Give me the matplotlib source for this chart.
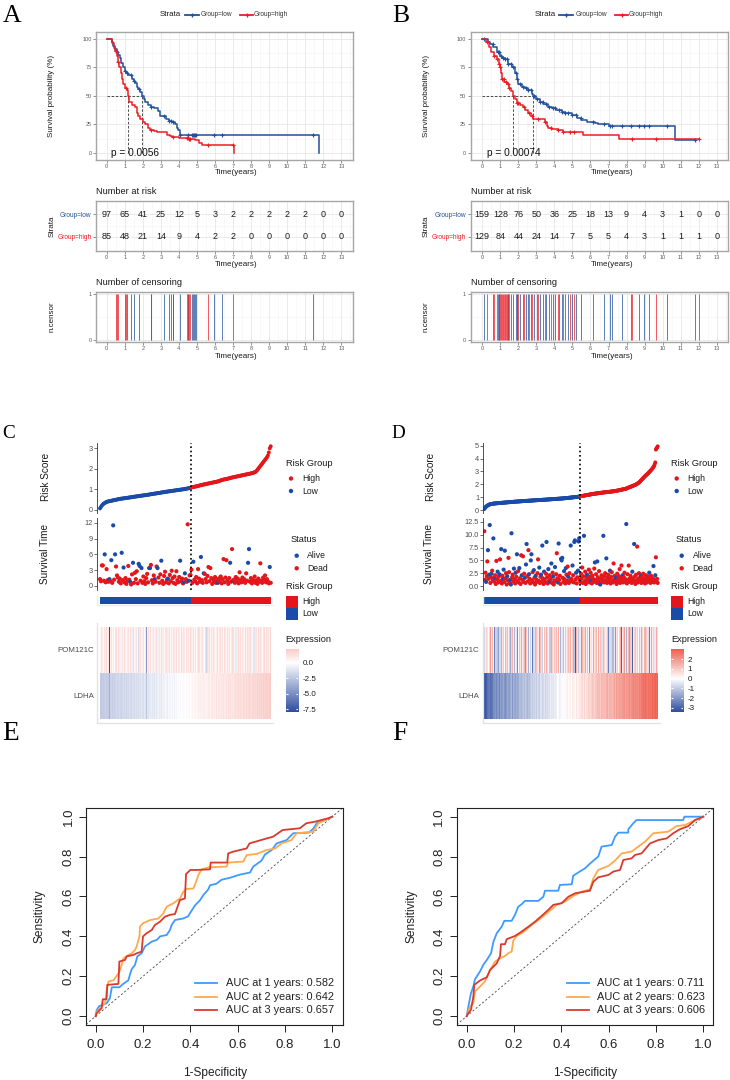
import numpy as np
import matplotlib.pyplot as plt
from matplotlib.colors import LinearSegmentedColormap, ListedColormap, Normalize

plt.rcParams['font.family'] = ['Liberation Sans', 'DejaVu Sans']

# ---------------- A / B : Kaplan-Meier ----------------
years = list(range(14))

a_low_t = [0, 0.28, 0.37, 0.45, 0.55, 0.62, 0.74, 0.80, 0.92, 1.00, 1.07, 1.20, 1.40, 1.50, 1.57, 1.66, 1.75,
           1.85, 1.94, 2.05, 2.15, 2.30, 2.45, 2.60, 2.86, 2.96, 3.30, 3.45, 3.60, 3.80, 3.88, 3.97, 4.06, 11.78]
a_low_s = [100, 97, 94, 91, 88, 86, 83, 79, 75, 72, 70, 68, 65, 63, 61, 58, 56,
           53, 50, 47, 45, 42, 40, 39, 37, 32, 30, 28, 27, 25, 22, 20, 16, 0]
a_high_t = [0, 0.30, 0.40, 0.48, 0.55, 0.62, 0.70, 0.77, 0.83, 0.92, 1.00, 1.10, 1.20, 1.25, 1.40, 1.55, 1.66,
            1.75, 1.85, 2.00, 2.15, 2.30, 2.40, 2.60, 2.80, 3.35, 3.50, 3.60, 4.00, 4.50, 4.90, 5.10, 5.27, 7.05]
a_high_s = [100, 96, 92, 89, 85, 80, 75, 70, 65, 60, 57, 55, 50, 45, 42, 40, 35,
            32, 30, 27, 25, 22, 20, 19, 18.5, 16, 15, 14, 13, 12, 11, 9, 7, 0]
a_cens_low = [0.59, 1.02, 1.15, 1.33, 1.51, 1.81, 2.47, 3.2, 3.45, 3.55, 3.66, 4.06, 4.5, 4.72, 4.78,
              4.84, 4.9, 4.96, 5.96, 6.37, 11.45]
a_cens_high = [0.52, 0.62, 1.07, 2.44, 3.68, 4.44, 4.49, 4.55, 4.6, 5.63, 7.02]
a_risk_low = [97, 65, 41, 25, 12, 5, 3, 2, 2, 2, 2, 2, 0, 0]
a_risk_high = [85, 48, 21, 14, 9, 4, 2, 2, 0, 0, 0, 0, 0, 0]

b_low_t = [0, 0.33, 0.40, 0.60, 0.80, 0.98, 1.10, 1.25, 1.44, 1.63, 1.80, 1.90, 2.00, 2.18, 2.37, 2.55, 2.74,
           2.83, 3.00, 3.20, 3.38, 3.66, 3.85, 4.10, 4.40, 4.59, 4.95, 5.23, 5.50, 5.80, 6.25, 6.43, 7.00,
           10.70, 11.80]
b_low_s = [100, 97, 95, 93, 88, 85, 83, 82, 78, 75, 70, 65, 60, 58, 57, 55, 52,
           50, 47, 45, 43, 40, 39, 38, 36, 35, 33, 31, 29, 27, 26, 25, 23.5, 11.6, 11.6]
b_high_t = [0, 0.20, 0.35, 0.50, 0.66, 0.80, 0.90, 0.98, 1.04, 1.07, 1.22, 1.35, 1.48, 1.60, 1.68, 1.80,
            1.90, 2.09, 2.27, 2.37, 2.55, 2.68, 2.83, 3.48, 3.57, 3.66, 3.85, 4.20, 4.50, 5.60, 7.58, 12.04]
b_high_s = [100, 97, 93, 88, 85, 82, 78, 75, 70, 65, 62, 60, 57, 54, 50, 47,
            44, 42, 40, 38, 35, 32, 30, 27, 24, 22, 21, 20, 18, 15.5, 12.2, 12.2]
b_cens_low = [0.11, 0.57, 0.85, 0.95, 1.05, 1.15, 1.25, 1.35, 1.45, 1.6, 1.72, 1.85, 1.95, 2.1, 2.25, 2.4,
              2.55, 2.7, 2.85, 3.05, 3.2, 3.35, 3.55, 3.7, 3.9, 4.05, 4.25, 4.4, 4.6, 4.75, 5.0, 5.2, 5.47,
              6.16, 6.77, 7.08, 7.18, 7.73, 8.23, 8.69, 8.97, 9.25, 10.23, 11.8]
b_cens_high = [0.24, 0.66, 0.82, 0.9, 1.0, 1.1, 1.2, 1.3, 1.4, 1.5, 1.9, 2.0, 2.3, 2.6, 2.75, 3.1, 3.5,
               3.8, 4.2, 4.5, 4.85, 5.1, 8.28, 9.63, 12.04]
b_risk_low = [159, 128, 76, 50, 36, 25, 18, 13, 9, 4, 3, 1, 0, 0]
b_risk_high = [129, 84, 44, 24, 14, 7, 5, 5, 4, 3, 1, 1, 1, 0]

# ---------------- C / D : risk score, survival, heatmap ----------------
c_n_low = 97
c_score = [0.08, 0.15, 0.22, 0.27, 0.31, 0.34, 0.37, 0.39, 0.41, 0.42,
           0.43, 0.44, 0.45, 0.46, 0.47, 0.48, 0.49, 0.50, 0.51, 0.52,
           0.53, 0.54, 0.55, 0.55, 0.56, 0.57, 0.57, 0.58, 0.59, 0.59,
           0.60, 0.61, 0.61, 0.62, 0.63, 0.64, 0.64, 0.65, 0.66, 0.66,
           0.67, 0.68, 0.68, 0.69, 0.70, 0.70, 0.71, 0.72, 0.72, 0.73,
           0.74, 0.74, 0.75, 0.76, 0.77, 0.77, 0.78, 0.79, 0.80, 0.80,
           0.81, 0.82, 0.83, 0.83, 0.84, 0.85, 0.86, 0.86, 0.87, 0.88,
           0.89, 0.89, 0.90, 0.91, 0.91, 0.92, 0.93, 0.93, 0.94, 0.95,
           0.95, 0.96, 0.97, 0.97, 0.98, 0.99, 0.99, 1.00, 1.01, 1.01,
           1.02, 1.03, 1.04, 1.05, 1.06, 1.07, 1.08,
           1.10, 1.11, 1.12, 1.13, 1.14, 1.15, 1.16, 1.17, 1.18, 1.20,
           1.21, 1.22, 1.23, 1.24, 1.25, 1.26, 1.27, 1.28, 1.29, 1.30,
           1.31, 1.32, 1.33, 1.34, 1.35, 1.36, 1.37, 1.38, 1.39, 1.40,
           1.42, 1.44, 1.46, 1.47, 1.48, 1.49, 1.50, 1.51, 1.52, 1.53,
           1.54, 1.56, 1.57, 1.58, 1.59, 1.60, 1.61, 1.62, 1.63, 1.64,
           1.65, 1.66, 1.67, 1.68, 1.69, 1.70, 1.71, 1.72, 1.73, 1.74,
           1.75, 1.76, 1.77, 1.78, 1.79, 1.80, 1.82, 1.84, 1.86, 1.90,
           1.96, 2.02, 2.08, 2.14, 2.20, 2.26, 2.32, 2.38, 2.44, 2.50,
           2.56, 2.65, 2.80, 3.00, 3.10]
c_time = [1.3, 0.9, 3.9, 3.9, 1.0, 6.0, 0.7, 3.2, 1.1, 0.8,
          1.3, 0.9, 4.9, 0.6, 11.5, 1.2, 6.0, 3.7, 2.0, 1.6,
          0.8, 1.4, 0.5, 6.3, 1.1, 3.5, 0.7, 1.5, 0.4, 1.0,
          3.8, 1.2, 0.8, 0.3, 2.2, 4.4, 0.6, 2.5, 1.3, 2.8,
          0.5, 4.2, 3.8, 1.0, 3.4, 0.6, 1.8, 0.9, 0.4, 1.5,
          2.3, 0.7, 3.4, 3.4, 4.0, 1.1, 0.5, 2.0, 1.3, 0.8,
          3.7, 3.4, 1.6, 0.6, 2.2, 4.8, 1.0, 0.4, 1.9, 2.7,
          0.7, 1.2, 1.4, 0.5, 2.1, 0.9, 2.9, 1.5, 0.6, 1.8,
          0.4, 2.8, 1.1, 0.7, 1.7, 4.8, 0.9, 1.4, 0.5, 0.7,
          2.4, 1.3, 0.8, 11.7, 1.0, 2.0, 2.1, 3.1, 0.6, 4.6,
          1.2, 0.9, 1.7, 0.5, 3.2, 1.4, 0.8, 5.5, 1.1, 0.6,
          2.4, 2.3, 1.3, 0.7, 1.9, 3.6, 0.9, 3.4, 1.5, 0.4,
          1.2, 0.8, 1.7, 0.6, 1.1, 0.6, 1.4, 0.9, 1.8, 0.5,
          1.3, 5.1, 0.7, 1.6, 4.9, 1.0, 0.4, 1.5, 4.4, 0.8,
          7.0, 1.0, 1.2, 0.6, 1.7, 0.9, 1.4, 0.5, 2.6, 1.1,
          0.7, 1.6, 0.9, 1.3, 0.6, 2.4, 1.0, 4.4, 7.0, 0.8,
          1.5, 0.5, 1.2, 0.9, 1.8, 0.6, 1.1, 0.4, 1.4, 0.8,
          4.3, 1.0, 0.6, 1.6, 1.2, 2.0, 0.7, 1.3, 0.9, 0.5,
          3.6, 0.6]
c_status = ("DDDDDADDDD" "ADADADADDD" "DDDADADDDD" "DDADDADDDD" "DAADADDDDD" "DDDADDDDAD"
            "DADDDADDDD" "DDADDDDDDD" "DDDDDADDDA" "ADDDADDDDA" "DDDDDDDADD" "ADDDDDDDDD"
            "DDDDDADDDD" "DDDDDDDDAD" "DADDDDDDDD" "DDDDDDDAAD" "DDDDDDDDDD" "DDDDDDDDDD" "AD")
c_pom = [1.0, 0.4, 1.4, 0.7, 0.2, 1.2, 0.7, 1.6, 0.4, 1.0,
         -7.9, 0.7, 1.4, 0.4, 1.0, 0.2, 1.2, 1.6, 0.7, 0.4,
         1.4, 1.0, -0.6, 0.7, 1.2, 0.4, 1.6, 0.7, 0.2, 1.0,
         1.2, 0.4, 1.4, 0.7, -0.8, 1.0, 1.6, 0.4, 0.7, 1.2,
         0.2, -1.5, 1.0, 1.4, 0.4, 0.7, 1.2, 0.2, 1.0, -4.5,
         0.7, 1.4, 0.4, 1.0, 1.6, 0.2, 0.7, 1.2, 0.4, 1.0,
         1.4, 0.7, -0.6, 1.2, 0.4, 1.6, 0.7, 1.0, 0.2, 1.2,
         0.4, 1.4, 1.0, 0.7, 1.6, 0.2, 1.2, 0.4, -1.0, 1.0,
         0.7, 1.4, 0.4, 1.2, 1.0, 0.2, 1.6, 0.7, 0.4, 1.2,
         1.0, 0.2, 1.4, 0.7, 1.2, 0.4, 1.6, 1.0, 0.7, 1.4,
         0.4, 1.2, 0.2, 1.0, 1.6, 0.7, 1.4, 0.4, 1.0, 1.2,
         0.7, 0.2, 1.4, -1.8, -1.2, 1.0, 1.6, 0.4, 1.2, 0.7,
         1.4, 1.0, 0.2, 1.2, 0.7, 1.6, 0.4, 1.0, 1.4, 0.7,
         1.2, 0.2, 1.6, 1.0, 0.4, 1.4, 0.7, 1.2, 0.2, 1.0,
         1.6, 0.7, 1.4, 0.4, 1.2, -0.8, 1.0, 1.6, 0.7, 1.4,
         0.4, 1.2, 1.0, 0.2, 1.6, 0.7, 1.4, 1.0, 0.4, 1.2,
         1.6, 0.7, 0.2, 1.4, -1.2, 1.0, 1.2, 0.4, 1.6, 0.7,
         1.4, 1.0, 0.2, 1.2, 1.6, 0.7, 0.4, 1.4, 1.0, 1.2,
         0.7, 1.6]
c_ldha = [-2.6, -2.3, -2.5, -2.1, -2.4, -2.2, -2.0, -2.4, -2.1, -2.3,
          -3.4, -2.0, -1.9, -2.2, -1.8, -2.1, -1.9, -1.7, -2.0, -1.8,
          -1.9, -1.6, -1.8, -2.0, -1.7, -1.5, -1.8, -1.6, -1.9, -1.5,
          -1.7, -1.4, -1.6, -1.8, -1.3, -1.6, -1.4, -1.7, -1.2, -1.5,
          -1.3, -1.6, -1.2, -1.4, -1.1, -1.3, -1.5, -1.0, -1.2, -2.6,
          -1.1, -1.3, -0.9, -1.2, -1.0, -0.8, -1.1, -0.9, -1.2, -0.7,
          -1.0, -0.8, -0.6, -0.9, -0.7, -1.0, -0.5, -0.8, -0.6, -0.4,
          -0.7, -0.5, -0.8, -0.3, -0.6, -0.4, -0.2, -0.5, -0.3, -0.6,
          -0.2, -0.4, -0.1, -0.3, 0.0, -0.2, 0.1, -0.1, 0.0, 0.2,
          -0.1, 0.1, 0.3, 0.0, 0.2, 0.4, 0.1, 0.3, 0.5, 0.2,
          0.4, 0.6, 0.3, 0.5, 0.7, 0.4, 0.6, 0.8, 0.5, 0.7,
          0.9, 0.6, 0.8, 0.5, 0.7, 1.0, 0.8, 0.6, 0.9, 1.1,
          0.8, 1.0, 0.7, 0.9, 1.2, 0.8, 1.0, 1.1, 0.9, 1.2,
          1.0, 1.3, 0.9, 1.1, 1.2, 1.0, 1.4, 1.1, 1.3, 1.0,
          1.2, 1.4, 1.1, 1.3, 1.5, 1.2, 1.4, 1.6, 1.3, 1.5,
          1.4, 1.2, 1.6, 1.5, 1.3, 1.7, 1.4, 1.6, 1.5, 1.8,
          1.6, 1.4, 1.7, 1.9, 1.5, 1.8, 1.6, 2.0, 1.7, 1.9,
          1.8, 2.0, 1.7, 2.1, 1.9, 2.0, 1.8, 2.1, 2.0, 1.9,
          2.1, 2.2]

d_n_low = 159
d_score = [0.08, 0.15, 0.22, 0.27, 0.30, 0.34, 0.37, 0.40, 0.42, 0.44,
           0.45, 0.46, 0.47, 0.48, 0.49, 0.50, 0.50, 0.51, 0.51, 0.52,
           0.52, 0.53, 0.53, 0.54, 0.54, 0.55, 0.55, 0.55, 0.56, 0.56,
           0.57, 0.57, 0.57, 0.58, 0.58, 0.59, 0.59, 0.59, 0.60, 0.60,
           0.61, 0.61, 0.61, 0.62, 0.62, 0.63, 0.63, 0.63, 0.64, 0.64,
           0.65, 0.65, 0.65, 0.66, 0.66, 0.66, 0.67, 0.67, 0.67, 0.68,
           0.68, 0.68, 0.69, 0.69, 0.69, 0.70, 0.70, 0.70, 0.71, 0.71,
           0.71, 0.72, 0.72, 0.72, 0.73, 0.73, 0.73, 0.73, 0.74, 0.74,
           0.74, 0.75, 0.75, 0.75, 0.76, 0.76, 0.76, 0.77, 0.77, 0.77,
           0.78, 0.78, 0.78, 0.78, 0.79, 0.79, 0.79, 0.80, 0.80, 0.80,
           0.80, 0.81, 0.81, 0.81, 0.82, 0.82, 0.82, 0.83, 0.83, 0.83,
           0.84, 0.84, 0.84, 0.85, 0.85, 0.85, 0.86, 0.86, 0.86, 0.87,
           0.87, 0.87, 0.88, 0.88, 0.88, 0.89, 0.89, 0.89, 0.90, 0.90,
           0.90, 0.91, 0.91, 0.92, 0.92, 0.93, 0.93, 0.94, 0.94, 0.95,
           0.95, 0.96, 0.96, 0.97, 0.97, 0.98, 0.98, 0.99, 0.99, 1.00,
           1.00, 1.01, 1.01, 1.02, 1.02, 1.03, 1.04, 1.05, 1.06,
           1.07, 1.08, 1.09, 1.10, 1.10, 1.11, 1.12, 1.13, 1.14, 1.15,
           1.16, 1.17, 1.18, 1.18, 1.19, 1.20, 1.21, 1.22, 1.23, 1.24,
           1.24, 1.25, 1.26, 1.27, 1.27, 1.28, 1.29, 1.29, 1.30, 1.30,
           1.31, 1.32, 1.32, 1.33, 1.34, 1.34, 1.35, 1.36, 1.36, 1.37,
           1.38, 1.38, 1.39, 1.39, 1.40, 1.40, 1.41, 1.41, 1.42, 1.42,
           1.43, 1.44, 1.44, 1.45, 1.45, 1.46, 1.47, 1.47, 1.48, 1.49,
           1.50, 1.51, 1.52, 1.53, 1.54, 1.55, 1.56, 1.57, 1.58, 1.59,
           1.60, 1.61, 1.62, 1.63, 1.64, 1.65, 1.67, 1.69, 1.71, 1.73,
           1.75, 1.77, 1.79, 1.81, 1.82, 1.84, 1.86, 1.88, 1.90, 1.92,
           1.94, 1.96, 1.98, 2.01, 2.04, 2.07, 2.10, 2.14, 2.18, 2.23,
           2.28, 2.33, 2.38, 2.43, 2.48, 2.53, 2.58, 2.63, 2.68, 2.72,
           2.76, 2.80, 2.85, 2.90, 2.95, 3.00, 3.05, 3.10, 3.16, 3.22,
           3.28, 3.35, 3.42, 3.55, 3.70, 4.70, 4.80, 4.85, 4.95]
d_time = [10.7, 1.2, 2.6, 0.8, 1.9, 4.8, 7.0, 1.4, 2.2, 11.9,
          0.6, 1.7, 2.4, 3.0, 1.1, 9.3, 0.9, 1.6, 2.1, 0.4,
          4.9, 1.3, 2.8, 0.7, 1.8, 2.3, 5.2, 1.0, 7.2, 0.5,
          2.0, 1.4, 3.2, 0.8, 6.9, 1.5, 2.5, 0.3, 1.9, 1.1,
          5.5, 2.7, 0.6, 1.2, 0.3, 10.3, 1.7, 2.2, 0.9, 3.4,
          1.3, 0.5, 2.6, 1.8, 6.2, 1.0, 2.9, 0.7, 3.5, 1.5,
          0.4, 6.0, 2.1, 1.2, 5.8, 0.8, 2.4, 1.6, 0.6, 4.2,
          8.2, 1.9, 0.9, 7.0, 2.3, 1.4, 0.5, 5.0, 6.2, 1.1,
          2.7, 0.7, 3.1, 1.6, 0.3, 2.0, 1.3, 0.8, 2.5, 5.2,
          1.0, 3.6, 0.6, 1.8, 2.2, 0.9, 7.9, 1.5, 0.4, 2.8,
          1.2, 0.7, 2.4, 8.6, 1.7, 0.5, 3.3, 1.0, 2.1, 0.8,
          1.4, 4.4, 0.6, 2.6, 1.9, 0.3, 1.1, 3.7, 0.9, 2.3,
          6.4, 1.5, 0.7, 8.3, 1.2, 2.0, 0.4, 5.3, 5.0, 5.5,
          1.6, 0.8, 2.9, 1.3, 0.5, 3.5, 2.2, 1.0, 3.8, 1.8,
          0.6, 2.5, 1.1, 7.9, 1.4, 0.9, 4.0, 2.1, 0.7, 8.6,
          8.9, 1.3, 2.6, 0.5, 1.7, 3.0, 8.7, 9.3, 1.2, 0.8,
          2.4, 1.5, 3.6, 0.6, 1.9, 9.8, 1.0, 2.8, 0.4, 1.6,
          2.2, 0.9, 1.3, 3.2, 0.7, 1.8, 2.6, 1.1, 0.5, 2.0,
          1.4, 0.8, 3.4, 4.6, 1.2, 2.3, 0.6, 4.8, 1.7, 1.0,
          2.9, 0.4, 0.3, 1.5, 2.1, 0.9, 1.3, 9.8, 0.7, 1.9,
          2.5, 1.1, 5.4, 0.6, 1.6, 2.2, 0.8, 1.4, 3.0, 0.5,
          1.8, 2.7, 1.0, 0.7, 4.4, 1.3, 2.0, 0.9, 1.6, 0.4,
          2.4, 1.2, 0.8, 1.9, 3.3, 0.6, 1.5, 4.0, 1.1, 2.1,
          0.7, 1.7, 2.6, 0.9, 1.3, 12.1, 0.5, 2.3, 1.0, 4.0,
          1.4, 0.8, 2.0, 1.6, 0.6, 2.8, 1.2, 0.9, 8.2, 1.8,
          0.4, 2.2, 1.1, 7.7, 0.7, 1.5, 2.5, 0.9, 1.3, 2.0,
          0.6, 1.7, 1.0, 2.4, 0.8, 1.4, 0.5, 2.1, 1.2, 0.7,
          1.9, 0.9, 1.6, 2.6, 1.1, 0.6, 2.0, 1.3, 0.8, 1.5,
          3.9, 0.7, 1.2, 2.1, 5.6, 0.9, 1.4, 0.6]
d_status = ("DDDADDADAA" "DDADDADADD" "DDADDADDAD" "DAADADDDAD" "DDDAAADDDA" "DDADADDDAD"
            "DDADDDDADA" "ADDDADDAAD" "DDADDADDDD" "DADDADADDA" "DDDADDADDA" "DADDADDADD"
            "DDAADDDAAA" "DDADDADDDA" "DDDADDADDA" "ADADDAAADD" "DDDDDADDDD" "ADDDDDDADD"
            "DDDADDDADD" "DDADDDDADD" "DDADDDDDAD" "DDDDDDDDAD" "DDDDDDDDDA" "DDDDDADDDD"
            "DDDDDADDAD" "DDDDDDDDDA" "DDDDDDDDDD" "DDDADDDDDD" "ADDADDDD")
d_pom = [-0.8, 1.2, 0.3, -2.9, 0.9, -0.4, 1.6, 0.1, -1.5, 0.7,
         1.9, -0.6, 0.4, -1.1, 1.3, -0.2, 0.8, -2.4, 0.5, 1.1,
         -0.9, 0.2, 1.5, -0.5, -1.8, 0.9, 0.3, -0.7, 1.7, -0.3,
         0.6, -1.3, 1.0, 0.1, -3.1, 1.4, -0.4, 0.7, -1.0, 1.8,
         0.2, -0.6, 1.2, -1.6, 0.4, 0.9, -0.8, 1.5, -0.1, 0.6,
         -1.4, 1.1, 0.3, -0.5, 1.7, -2.2, 0.8, 0.0, -0.9, 1.3,
         0.5, -1.2, 1.6, -0.3, 0.9, -0.7, 0.2, 1.4, -1.9, 0.6,
         1.0, -0.4, 0.3, -1.5, 1.8, 0.1, -0.8, 1.2, -0.2, 0.7,
         -2.6, 0.9, 1.5, -0.6, 0.4, -1.1, 1.1, 0.2, -0.5, 1.6,
         0.3, -1.7, 0.8, 1.3, -0.3, 0.6, -0.9, 1.9, 0.0, -1.3,
         1.2, 0.4, -0.7, 1.5, -2.0, 0.8, 0.1, -0.4, 1.4, 0.5,
         -1.0, 1.7, -0.2, 0.9, -1.6, 0.3, 1.1, -0.6, 0.7, -2.8,
         1.3, 0.2, -0.8, 1.6, -0.1, 0.5, -1.4, 1.0, 0.4, -0.5,
         1.8, -1.2, 0.6, 0.0, -0.9, 1.4, 0.3, -2.3, 0.8, 1.2,
         -0.4, 0.7, -1.5, 1.5, 0.1, -0.7, 1.0, -0.2, 1.7, -1.1,
         0.4, -3.2, 0.9, 1.3, -0.5, 0.2, -1.0, 1.6, 0.6, -0.3,
         1.1, -1.8, 0.5, 1.4, -0.6, 0.0, 0.8, -1.3, 1.9, 0.3,
         -0.8, 1.2, -0.1, 0.7, -2.1, 1.5, 0.4, -0.4, 1.0, 0.2,
         -1.4, 1.7, 0.6, -0.7, 0.9, -2.7, 1.3, 0.1, -0.9, 1.6,
         0.5, -0.3, 1.1, -1.6, 0.8, 0.3, -0.5, 1.4, -1.2, 0.7,
         1.8, -0.2, 0.4, -1.0, 1.2, 0.0, -2.4, 0.9, 1.5, -0.6,
         0.2, 1.0, -1.3, 0.6, 1.7, -0.4, 0.3, -1.9, 1.1, 0.5,
         -0.7, 1.4, 0.1, -1.1, 0.8, 1.6, -0.3, -2.9, 1.2, 0.4,
         -0.8, 0.7, 1.9, -0.5, 0.2, -1.4, 1.0, 0.6, -0.2, 1.3,
         -1.7, 0.5, 1.1, -0.6, 0.9, -3.0, 1.5, 0.3, -0.4, 0.8,
         1.2, -1.0, 0.4, 1.6, -0.7, 0.1, -1.5, 1.3, 0.6, -0.3,
         1.8, -2.2, 0.7, 0.2, -0.9, 1.4, 0.5, -1.2, 1.0, -0.1,
         0.6, 1.5, -0.6, -2.5, 1.1, 0.3, -0.8, 1.7, 0.4, -1.3,
         0.9, 1.2, -0.4, 0.5, -1.8, 1.6, 0.2, -0.5]
d_ldha = [-3.4, -3.0, -3.2, -2.8, -3.1, -2.7, -2.9, -2.6, -3.0, -2.5,
          -2.8, -2.4, -2.7, -2.3, -2.6, -2.2, -2.5, -2.1, -2.4, -2.0,
          -2.3, -2.6, -2.0, -2.2, -1.9, -2.4, -2.1, -1.8, -2.0, -2.3,
          -1.9, -2.1, -1.7, -2.0, -1.8, -2.2, -1.6, -1.9, -1.7, -2.0,
          -1.8, -1.5, -1.9, -1.6, -1.8, -1.4, -1.7, -2.0, -1.5, -1.7,
          -1.6, -1.4, -1.8, -1.5, -1.3, -1.7, -1.4, -1.6, -1.2, -1.5,
          -1.3, -1.6, -1.4, -1.2, -1.5, -1.1, -1.4, -1.3, -1.0, -1.3,
          -1.2, -1.0, -1.4, -1.1, -0.9, -1.3, -1.0, -1.2, -0.8, -1.1,
          -1.0, -0.8, -1.2, -0.9, -1.1, -0.7, -1.0, -0.8, -0.6, -0.9,
          -0.8, -1.0, -0.7, -0.5, -0.9, -0.6, -0.8, -0.4, -0.7, -0.6,
          -0.5, -0.8, -0.4, -0.6, -0.3, -0.7, -0.5, -0.2, -0.6, -0.4,
          -0.3, -0.5, -0.2, -0.4, -0.1, -0.5, -0.3, -0.2, -0.4, -0.1,
          -0.3, 0.0, -0.2, -0.1, -0.3, 0.1, -0.2, 0.0, -0.1, 0.1,
          -0.2, 0.0, 0.2, -0.1, 0.1, 0.0, 0.2, -0.1, 0.3, 0.1,
          0.0, 0.2, 0.1, 0.3, 0.0, 0.2, 0.4, 0.1, 0.3, 0.2,
          0.4, 0.1, 0.3, 0.5, 0.2, 0.4, 0.3, 0.6, 0.4, 0.5,
          0.3, 0.6, 0.5, 0.7, 0.4, 0.6, 0.8, 0.5, 0.7, 0.6,
          0.8, 0.6, 0.9, 0.7, 0.8, 1.0, 0.7, 0.9, 0.8, 1.1,
          0.9, 1.0, 0.8, 1.2, 1.0, 0.9, 1.1, 1.3, 1.0, 1.2,
          1.1, 1.3, 1.0, 1.2, 1.4, 1.1, 1.3, 1.2, 1.5, 1.3,
          1.4, 1.2, 1.5, 1.3, 1.6, 1.4, 1.2, 1.5, 1.7, 1.4,
          1.6, 1.5, 1.3, 1.7, 1.5, 1.8, 1.6, 1.4, 1.7, 1.9,
          1.6, 1.8, 1.7, 1.5, 1.9, 1.7, 2.0, 1.8, 1.6, 1.9,
          2.0, 1.8, 2.1, 1.9, 1.7, 2.0, 2.2, 1.9, 2.1, 2.0,
          2.2, 2.0, 1.9, 2.3, 2.1, 2.2, 2.0, 2.4, 2.2, 2.1,
          2.3, 2.5, 2.2, 2.4, 2.3, 2.1, 2.5, 2.4, 2.6, 2.3,
          2.5, 2.4, 2.6, 2.7, 2.4, 2.6, 2.5, 2.8, 2.6, 2.7,
          2.5, 2.8, 2.7, 2.6, 2.9, 2.7, 2.8, 2.6, 2.9, 2.8,
          2.7, 2.9, 2.8, 3.0, 2.9, 2.8, 3.0, 2.9]
genes = ['POM121C', 'LDHA']

# ---------------- E / F : time-dependent ROC ----------------
roc_labels_e = ['AUC at 1 years: 0.582', 'AUC at 2 years: 0.642', 'AUC at 3 years: 0.657']
e1_fpr = [0, 0.004, 0.014, 0.046, 0.06, 0.068, 0.10, 0.114, 0.138, 0.145, 0.152, 0.166, 0.176, 0.194, 0.208,
          0.223, 0.237, 0.258, 0.272, 0.30, 0.314, 0.321, 0.335, 0.37, 0.39, 0.406, 0.42, 0.44, 0.455, 0.476,
          0.483, 0.51, 0.532, 0.568, 0.61, 0.652, 0.666, 0.701, 0.715, 0.744, 0.765, 0.807, 0.835, 0.90, 0.92,
          0.934, 0.97, 1.0]
e1_tpr = [0, 0.03, 0.05, 0.065, 0.09, 0.145, 0.145, 0.16, 0.18, 0.21, 0.235, 0.257, 0.30, 0.315, 0.35,
          0.362, 0.374, 0.382, 0.40, 0.407, 0.432, 0.457, 0.482, 0.49, 0.50, 0.53, 0.556, 0.58, 0.607, 0.636,
          0.656, 0.664, 0.684, 0.694, 0.71, 0.72, 0.75, 0.78, 0.81, 0.833, 0.866, 0.883, 0.917, 0.92, 0.94,
          0.967, 0.983, 1.0]
e2_fpr = [0, 0.0, 0.018, 0.04, 0.046, 0.054, 0.075, 0.096, 0.103, 0.117, 0.138, 0.152, 0.166, 0.173, 0.185,
          0.187, 0.20, 0.23, 0.265, 0.286, 0.30, 0.328, 0.356, 0.37, 0.385, 0.413, 0.427, 0.434, 0.448, 0.476,
          0.553, 0.56, 0.624, 0.638, 0.68, 0.722, 0.758, 0.786, 0.828, 0.849, 0.92, 0.941, 0.97, 1.0]
e2_tpr = [0, 0.015, 0.04, 0.065, 0.13, 0.174, 0.18, 0.215, 0.23, 0.29, 0.307, 0.315, 0.332, 0.349, 0.40,
          0.449, 0.466, 0.482, 0.49, 0.516, 0.549, 0.566, 0.59, 0.624, 0.638, 0.64, 0.683, 0.708, 0.736, 0.746,
          0.75, 0.77, 0.775, 0.808, 0.813, 0.833, 0.84, 0.866, 0.883, 0.917, 0.925, 0.967, 0.983, 1.0]
e3_fpr = [0, 0.004, 0.025, 0.03, 0.046, 0.049, 0.096, 0.10, 0.124, 0.131, 0.159, 0.173, 0.194, 0.20, 0.215,
          0.237, 0.25, 0.272, 0.293, 0.314, 0.335, 0.356, 0.377, 0.382, 0.40, 0.427, 0.483, 0.486, 0.556, 0.56,
          0.582, 0.638, 0.65, 0.708, 0.75, 0.79, 0.863, 0.89, 0.927, 0.983, 1.0]
e3_tpr = [0, 0.015, 0.04, 0.085, 0.085, 0.157, 0.162, 0.274, 0.282, 0.30, 0.307, 0.315, 0.324, 0.40, 0.416,
          0.432, 0.457, 0.474, 0.499, 0.508, 0.512, 0.582, 0.59, 0.713, 0.733, 0.733, 0.736, 0.77, 0.77, 0.816,
          0.825, 0.841, 0.866, 0.886, 0.90, 0.933, 0.942, 0.967, 0.975, 0.992, 1.0]

roc_labels_f = ['AUC at 1 years: 0.711', 'AUC at 2 years: 0.623', 'AUC at 3 years: 0.606']
f1_fpr = [0, 0.007, 0.018, 0.028, 0.035, 0.056, 0.07, 0.085, 0.103, 0.113, 0.127, 0.148, 0.159, 0.19, 0.204,
          0.218, 0.232, 0.246, 0.303, 0.324, 0.331, 0.387, 0.394, 0.444, 0.45, 0.479, 0.50, 0.521, 0.542, 0.556,
          0.57, 0.613, 0.627, 0.641, 0.683, 0.683, 0.704, 0.718, 0.915, 0.92, 1.0]
f1_tpr = [0, 0.048, 0.115, 0.149, 0.185, 0.224, 0.257, 0.282, 0.316, 0.374, 0.416, 0.449, 0.478, 0.478, 0.508,
          0.549, 0.561, 0.578, 0.578, 0.599, 0.629, 0.629, 0.658, 0.661, 0.704, 0.726, 0.741, 0.765, 0.786, 0.80,
          0.85, 0.858, 0.90, 0.92, 0.92, 0.937, 0.967, 0.983, 0.983, 1.0, 1.0]
f2_fpr = [0, 0.014, 0.028, 0.035, 0.056, 0.077, 0.099, 0.12, 0.141, 0.162, 0.176, 0.19, 0.197, 0.211, 0.232,
          0.254, 0.275, 0.303, 0.331, 0.359, 0.38, 0.415, 0.451, 0.486, 0.521, 0.535, 0.556, 0.599, 0.627, 0.655,
          0.697, 0.725, 0.754, 0.789, 0.852, 0.887, 0.923, 0.965, 1.0]
f2_tpr = [0, 0.048, 0.065, 0.124, 0.149, 0.174, 0.232, 0.274, 0.29, 0.302, 0.316, 0.324, 0.379, 0.402, 0.416,
          0.436, 0.457, 0.482, 0.508, 0.536, 0.558, 0.574, 0.603, 0.624, 0.636, 0.691, 0.733, 0.753, 0.78, 0.816,
          0.825, 0.85, 0.875, 0.917, 0.925, 0.953, 0.958, 0.983, 1.0]
f3_fpr = [0, 0.007, 0.018, 0.028, 0.032, 0.056, 0.085, 0.099, 0.127, 0.141, 0.145, 0.162, 0.169, 0.204, 0.232,
          0.261, 0.289, 0.317, 0.345, 0.366, 0.401, 0.43, 0.458, 0.521, 0.535, 0.556, 0.599, 0.62, 0.648, 0.662,
          0.697, 0.711, 0.739, 0.775, 0.81, 0.845, 0.873, 0.901, 0.937, 0.965, 1.0]
f3_tpr = [0, 0.015, 0.032, 0.098, 0.157, 0.179, 0.195, 0.232, 0.265, 0.302, 0.361, 0.361, 0.386, 0.402, 0.424,
          0.449, 0.474, 0.503, 0.533, 0.558, 0.566, 0.599, 0.616, 0.629, 0.674, 0.696, 0.708, 0.725, 0.733, 0.783,
          0.791, 0.808, 0.816, 0.866, 0.883, 0.891, 0.917, 0.937, 0.953, 0.983, 1.0]

LOW, HIGH = '#22509a', '#ed1c24'
BLUE, RED = '#1a4ba8', '#e3161b'
ROC_COLS = ['#3d9bff', '#ffa94d', '#d93a2e']
heat_cmap = LinearSegmentedColormap.from_list('expr', ['#2f4e9f', '#ffffff', '#ec4b3a'])

W, H = 730, 1080
fig = plt.figure(figsize=(W / 100, H / 100), dpi=100)


def add_box(x0, y0, x1, y1):
    # axes placed by pixel box (top-left origin)
    return fig.add_axes([x0 / W, 1 - y1 / H, (x1 - x0) / W, (y1 - y0) / H])


def gg_style(ax, xl):
    ax.set_xlim(*xl)
    ax.set_xticks(years)
    ax.set_xticks(np.arange(0.5, 13.6, 1), minor=True)
    ax.grid(which='major', color='#e6e6e6', lw=0.6)
    ax.grid(which='minor', color='#f3f3f3', lw=0.4)
    ax.set_axisbelow(True)
    for s in ax.spines.values():
        s.set_color('#a6a6a6')
        s.set_linewidth(1.0)
    ax.tick_params(which='major', length=2, width=0.5, color='#666666', labelsize=4,
                   labelcolor='#595959', pad=1.2)
    ax.tick_params(which='minor', length=0)


def km_panel(L, R, p0, p13, low, high, c_low, c_high, r_low, r_high, pval):
    s = (p13 - p0) / 13
    xl = ((L - p0) / s, (R - p0) / s)
    ax = add_box(L, 32, R, 160)
    gg_style(ax, xl)
    ax.set_ylim(-6.1, 105.9)
    ax.set_yticks([0, 25, 50, 75, 100])
    ax.set_yticks([12.5, 37.5, 62.5, 87.5], minor=True)
    meds = [t[int(np.argmax(np.array(sv) <= 50))] for t, sv in (low, high)]
    dash = dict(color='#333333', lw=0.6, ls=(0, (3, 2)))
    ax.plot([0, max(meds)], [50, 50], **dash)
    for m in meds:
        ax.plot([m, m], [0, 50], **dash)
    for (t, sv), col, cens in ((low, LOW, c_low), (high, HIGH, c_high)):
        ax.step(t, sv, where='post', color=col, lw=1.1)
        k = np.searchsorted(t, cens, side='right') - 1
        ax.plot(cens, np.array(sv)[k], ls='none', marker='+', ms=3.2, mew=0.8, color=col)
    ax.text(0.25, 0, pval, fontsize=7.3, va='center', ha='left', color='#111111')

    tb = add_box(L, 200.5, R, 250.5)
    gg_style(tb, xl)
    tb.set_ylim(0.4, 2.6)
    tb.set_yticks([1, 2])
    tb.set_yticks([1.5], minor=True)
    tb.set_yticklabels(['Group=high', 'Group=low'], fontsize=4.7)
    tb.get_yticklabels()[0].set_color(HIGH)
    tb.get_yticklabels()[1].set_color(LOW)
    for x, nl, nh in zip(years, r_low, r_high):
        tb.text(x, 2, str(nl), ha='center', va='center', fontsize=6.5, color='#1a1a1a')
        tb.text(x, 1, str(nh), ha='center', va='center', fontsize=6.5, color='#1a1a1a')

    cx = add_box(L, 292, R, 342)
    gg_style(cx, xl)
    cx.set_ylim(-0.043, 1.043)
    cx.set_yticks([0, 1])
    cx.set_yticks([0.5], minor=True)
    cx.vlines(c_low, 0, 1, color=LOW, lw=0.6, alpha=0.85)
    cx.vlines(c_high, 0, 1, color=HIGH, lw=0.6, alpha=0.85)


km_panel(96, 353, 106.7, 341.3, (a_low_t, a_low_s), (a_high_t, a_high_s), a_cens_low, a_cens_high,
         a_risk_low, a_risk_high, 'p = 0.0056')
km_panel(470.5, 728, 482.3, 716.7, (b_low_t, b_low_s), (b_high_t, b_high_s), b_cens_low, b_cens_high,
         b_risk_low, b_risk_high, 'p = 0.00074')


def risk_panel(L, pf, pl, R, n_low, score, time, status, pom, ldha, rlim, rticks, slim, sticks, sfmt,
               cb_x, cb_fmt):
    n = len(score)
    s = (pl - pf) / (n - 1)
    xl = (1 - (pf - L) / s, n + (R - pl) / s)
    idx = np.arange(1, n + 1)
    grp_col = np.where(idx <= n_low, BLUE, RED)

    ax = add_box(L, 443, R, 513)
    ax.scatter(idx, score, s=8, c=grp_col, lw=0)
    ax.axvline(n_low + 0.5, color='black', lw=1.2, ls=(0, (1, 1.6)))
    ax.set_xlim(*xl)
    ax.set_ylim(*rlim)
    ax.set_yticks(rticks)
    ax.set_xticks([])
    for k in ('top', 'right', 'bottom'):
        ax.spines[k].set_visible(False)
    ax.spines['left'].set_color('#333333')
    ax.spines['left'].set_linewidth(0.6)
    ax.tick_params(axis='y', length=2, width=0.5, color='#333333', labelsize=5.3,
                   labelcolor='#4d4d4d', pad=1)
    ax.patch.set_alpha(0)

    sx = add_box(L, 518, R, 590)
    dead = np.array([c == 'D' for c in status])
    sx.scatter(idx, time, s=9, c=np.where(dead, RED, BLUE), lw=0)
    sx.axvline(n_low + 0.5, color='black', lw=1.2, ls=(0, (1, 1.6)))
    sx.set_xlim(*xl)
    sx.set_ylim(*slim)
    sx.set_yticks(sticks)
    sx.set_yticklabels([sfmt % v for v in sticks])
    sx.set_xticks([])
    for k in ('top', 'right', 'bottom'):
        sx.spines[k].set_visible(False)
    sx.spines['left'].set_color('#333333')
    sx.spines['left'].set_linewidth(0.6)
    sx.tick_params(axis='y', length=2, width=0.5, color='#333333', labelsize=5.3,
                   labelcolor='#4d4d4d', pad=1)
    sx.patch.set_alpha(0)

    rb = add_box(pf - s / 2, 597.3, pl + s / 2, 604)
    rb.pcolormesh(np.arange(0.5, n + 1), [0, 1], (idx > n_low)[None, :].astype(float),
                  cmap=ListedColormap([BLUE, RED]), vmin=0, vmax=1)
    rb.set_axis_off()

    vals = np.array([ldha, pom])
    vmin, vmax = vals.min(), vals.max()
    m = max(abs(vmin), abs(vmax))
    norm = Normalize(-m, m)
    hx = add_box(pf - s / 2, 627.3, pl + s / 2, 719.3)
    hx.pcolormesh(np.arange(0.5, n + 1), [0, 1, 2], vals, cmap=heat_cmap, norm=norm)
    hx.set_axis_off()

    cb = add_box(cb_x, 649.3, cb_x + 12.3, 711.7)
    grad = np.linspace(vmax, vmin, 256)[:, None]
    cb.imshow(grad, extent=(0, 1, vmin, vmax), aspect='auto', cmap=heat_cmap, norm=norm)
    ticks = [t for t in cb_fmt[1] if vmin <= t <= vmax]
    cb.hlines(ticks, 0, 0.2, color='white', lw=0.8)
    cb.hlines(ticks, 0.8, 1, color='white', lw=0.8)
    cb.set_xlim(0, 1)
    cb.set_ylim(vmin, vmax)
    cb.set_xticks([])
    cb.yaxis.tick_right()
    cb.set_yticks(ticks)
    cb.set_yticklabels([cb_fmt[0] % t for t in ticks])
    cb.tick_params(axis='y', length=0, pad=3, labelsize=5.8, labelcolor='#1a1a1a')
    for sp in cb.spines.values():
        sp.set_visible(False)


risk_panel(97, 100, 270.7, 273, c_n_low, c_score, c_time, c_status, c_pom, c_ldha,
           (-0.146, 3.26), [0, 1, 2, 3], (-0.76, 12.9), [0, 3, 6, 9, 12], '%d',
           286, ('%.1f', [0.0, -2.5, -5.0, -7.5]))
risk_panel(483.3, 484.3, 657.7, 660, d_n_low, d_score, d_time, d_status, d_pom, d_ldha,
           (-0.23, 5.21), [0, 1, 2, 3, 4, 5], (-0.78, 13.28), [0, 2.5, 5, 7.5, 10, 12.5], '%.1f',
           671, ('%d', [2, 1, 0, -1, -2, -3]))


def roc_panel(L, R, p0, p1, curves):
    ax = add_box(L, 808.3, R, 1025)
    s = p1 - p0
    ax.axline((0, 0), (1, 1), color='#444444', lw=0.6, ls=(0, (2.5, 2.5)))
    for (fpr, tpr), col in zip(curves, ROC_COLS):
        ax.plot(fpr, tpr, color=col, lw=1.3)
    ax.set_xlim((L - p0) / s, (R - p0) / s)
    ax.set_ylim(-0.044, 1.042)
    tk = np.round(np.arange(0, 1.01, 0.2), 1)
    ax.set_xticks(tk)
    ax.set_xticklabels(['%.1f' % v for v in tk], fontsize=9.5)
    ax.set_yticks(tk)
    ax.set_yticklabels(['%.1f' % v for v in tk], fontsize=9.5, rotation=90, va='center')
    ax.tick_params(length=4.8, width=0.7, color='#222222', labelcolor='#222222')
    ax.tick_params(axis='x', pad=5)
    ax.tick_params(axis='y', pad=3.5)
    for sp in ax.spines.values():
        sp.set_color('#222222')
        sp.set_linewidth(0.8)


roc_panel(86, 343.3, 95.7, 332.3, [(e1_fpr, e1_tpr), (e2_fpr, e2_tpr), (e3_fpr, e3_tpr)])
roc_panel(456.7, 713.3, 466.7, 703.3, [(f1_fpr, f1_tpr), (f2_fpr, f2_tpr), (f3_fpr, f3_tpr)])

# ---------------- text, legends and frames in pixel coordinates ----------------
ov = fig.add_axes([0, 0, 1, 1], zorder=5)
ov.set_xlim(0, W)
ov.set_ylim(H, 0)
ov.set_axis_off()


def t(x, y, s, size, **kw):
    kw.setdefault('va', 'center')
    kw.setdefault('color', '#1a1a1a')
    ov.text(x, y, s, fontsize=size, **kw)


serif = ['Liberation Serif', 'DejaVu Serif']
for lab, x, y, size in (('A', 3, 21.7, 18.5), ('B', 392, 21.7, 18.5), ('C', 2, 438, 13.8),
                        ('D', 391.7, 437.7, 13.8), ('E', 1.7, 740, 19.6), ('F', 391.7, 740, 19.6)):
    t(x, y, lab, size, va='baseline', family=serif, color='black')

for dx, px0, lab_x, tc in ((0, 96, 51.7, 236.3), (374.5, 471, 426.5, 612)):
    # strata legend
    lx = (160, 185, 201, 240, 254) if dx == 0 else (535, 559, 576, 615, 629)
    t(lx[0], 15, 'Strata', 5.7)
    ov.plot([lx[1], lx[1] + 14], [15, 15], color=LOW, lw=1.3)
    ov.plot([lx[1] + 7], [15], marker='+', ms=3.5, mew=0.9, color=LOW)
    t(lx[2], 15, 'Group=low', 4.7, color='#333333')
    ov.plot([lx[3], lx[3] + 13], [15, 15], color=HIGH, lw=1.3)
    ov.plot([lx[3] + 6.5], [15], marker='+', ms=3.5, mew=0.9, color=HIGH)
    t(lx[4], 15, 'Group=high', 4.7, color='#333333')
    # axis titles
    t(lab_x, 96, 'Survival probability (%)', 5.8, rotation=90, ha='center')
    t(tc, 172, 'Time(years)', 5.8, ha='center')
    t(px0, 191, 'Number at risk', 6.7, ha='left')
    t(lab_x, 226.7, 'Strata', 5.8, rotation=90, ha='center')
    t(tc, 265, 'Time(years)', 5.8, ha='center')
    t(px0, 282.7, 'Number of censoring', 6.7, ha='left')
    t(lab_x, 317, 'n.censor', 5.8, rotation=90, ha='center')
    t(tc, 356, 'Time(years)', 5.8, ha='center')

for (L, R, lab_x, gl_x, lg) in ((97.3, 273.3, 46, 94, (285.7, 291, 302.3, 290.7, 296.7, 307.3)),
                                (483.3, 660, 431, 479, (671, 676.7, 687.7, 675.7, 681.7, 692.7))):
    t(lab_x, 477, 'Risk Score', 7.2, rotation=90, ha='center')
    t(lab_x - 1.5, 554, 'Survival Time', 7.2, rotation=90, ha='center')
    t(gl_x, 650.3, genes[0], 5.7, ha='right', color='#4d4d4d')
    t(gl_x, 696.3, genes[1], 5.7, ha='right', color='#4d4d4d')
    # frames
    ov.plot([L, L, R], [623, 722.7, 722.7], color='#e3e3e3', lw=1.0)
    ov.plot([L, L, R], [596, 605, 605], color='#ececec', lw=1.0)
    # risk group legend
    t(lg[0], 463, 'Risk Group', 6.7, ha='left')
    ov.scatter([lg[1], lg[1]], [478.5, 491], s=10, c=[RED, BLUE], lw=0)
    t(lg[2], 478.5, 'High', 6.2, ha='left')
    t(lg[2], 491, 'Low', 6.2, ha='left')
    # status legend
    t(lg[3], 540, 'Status', 6.7, ha='left')
    ov.scatter([lg[4], lg[4]], [555.7, 568.3], s=10, c=[BLUE, RED], lw=0)
    t(lg[5], 555.7, 'Alive', 6.2, ha='left')
    t(lg[5], 568.3, 'Dead', 6.2, ha='left')
    # risk group tiles
    t(lg[0], 586.7, 'Risk Group', 6.7, ha='left')
    ov.add_patch(plt.Rectangle((lg[0] + 0.3, 595.7), 11.7, 12, color=RED, lw=0))
    ov.add_patch(plt.Rectangle((lg[0] + 0.3, 607.7), 11.7, 12.3, color=BLUE, lw=0))
    t(lg[2], 601.7, 'High', 6.2, ha='left')
    t(lg[2], 614, 'Low', 6.2, ha='left')
    t(lg[0], 640, 'Expression', 6.7, ha='left')

for (cx, lab_x, line_x, txt_x, labels) in ((214.7, 39.3, 195, 226, roc_labels_e),
                                           (585, 411, 566.7, 597.3, roc_labels_f)):
    t(cx, 1072.7, '1-Specificity', 8.6, ha='center', color='#222222')
    t(lab_x, 916, 'Sensitivity', 8.6, rotation=90, ha='center', color='#222222')
    for y, lab, col in zip((982.7, 997, 1010.3), labels, ROC_COLS):
        ov.plot([line_x, line_x + 22], [y, y], color=col, lw=1.3)
        t(txt_x, y, lab, 7.9, ha='left', color='#222222')

fig.savefig('out.png', dpi=100)
